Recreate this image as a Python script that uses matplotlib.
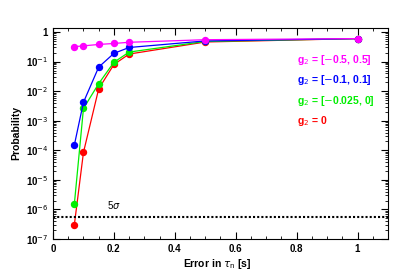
import matplotlib
matplotlib.use("Agg")
import matplotlib.pyplot as plt
from matplotlib.ticker import LogLocator, MultipleLocator, FixedLocator, NullFormatter, FuncFormatter
import math

plt.rcParams['font.family'] = ['Liberation Sans', 'DejaVu Sans']

x = [0.07, 0.1, 0.15, 0.2, 0.25, 0.5, 1.0]
p_magenta = [0.32, 0.34, 0.38, 0.41, 0.45, 0.55, 0.6]
p_blue = [1.5e-4, 4.2e-3, 0.065, 0.19, 0.30, 0.50, 0.6]
p_green = [1.5e-6, 2.6e-3, 0.018, 0.095, 0.21, 0.48, 0.6]
p_red = [3.0e-7, 8.5e-5, 0.012, 0.08, 0.18, 0.46, 0.6]
five_sigma = 5.7e-7

series = [
    (p_magenta, '#ff00ff', r'g$_2$ = [$-$0.5, 0.5]'),
    (p_blue, '#0000ff', r'g$_2$ = [$-$0.1, 0.1]'),
    (p_green, '#00ee00', r'g$_2$ = [$-$0.025, 0]'),
    (p_red, '#ff0000', r'g$_2$ = 0'),
]

fig = plt.figure(figsize=(4.09, 2.77), dpi=100)
ax = fig.add_axes([0.1296, 0.137, 0.819, 0.763])

for vals, col, lab in series[::-1]:
    ax.plot(x, vals, '-', color=col, lw=0.9, marker='o', ms=4.3, mec=col, mfc=col)

ax.axhline(five_sigma, color='black', ls=(0, (1, 1)), lw=1.5)
ax.text(0.2, 9e-7, r'5$\sigma$', fontsize=7, ha='center', va='bottom')

ax.set_yscale('log')
ax.set_xlim(0, 1.1)
ax.set_ylim(1e-7, 1.4)

ax.xaxis.set_major_locator(FixedLocator([0, 0.2, 0.4, 0.6, 0.8, 1.0]))
ax.xaxis.set_minor_locator(MultipleLocator(0.05))
ax.set_xticklabels(['0', '0.2', '0.4', '0.6', '0.8', '1'])
ax.yaxis.set_major_locator(LogLocator(base=10, numticks=20))
ax.yaxis.set_minor_locator(LogLocator(base=10, subs=range(2, 10), numticks=20))
ax.yaxis.set_minor_formatter(NullFormatter())


def yfmt(v, pos):
    e = int(round(math.log10(v)))
    if e == 0:
        return '1'
    return r'10$^{%d}$' % e


ax.yaxis.set_major_formatter(FuncFormatter(yfmt))

ax.tick_params(which='both', direction='in', top=True, right=True, labelsize=7)
ax.tick_params(which='major', length=5, width=0.8)
ax.tick_params(which='minor', length=2.5, width=0.6)
for lab in ax.get_xticklabels() + ax.get_yticklabels():
    lab.set_fontweight('bold')

ax.set_ylabel('Probability', fontsize=7.5, fontweight='bold')
ax.yaxis.set_label_coords(-0.095, 0.5)
fig.text(251 / 409, 1 - 264 / 277, r'Error in $\tau_{\rm n}$ [s]', fontsize=7.5,
         fontweight='bold', ha='right', va='center')

legend_y = [60, 80, 101, 121]
for (vals, col, lab), yp in zip(series, legend_y):
    fig.text(297 / 409, 1 - yp / 277, lab, color=col, fontsize=7.5, fontweight='bold',
             ha='left', va='center')

fig.savefig('out.png', dpi=100)
